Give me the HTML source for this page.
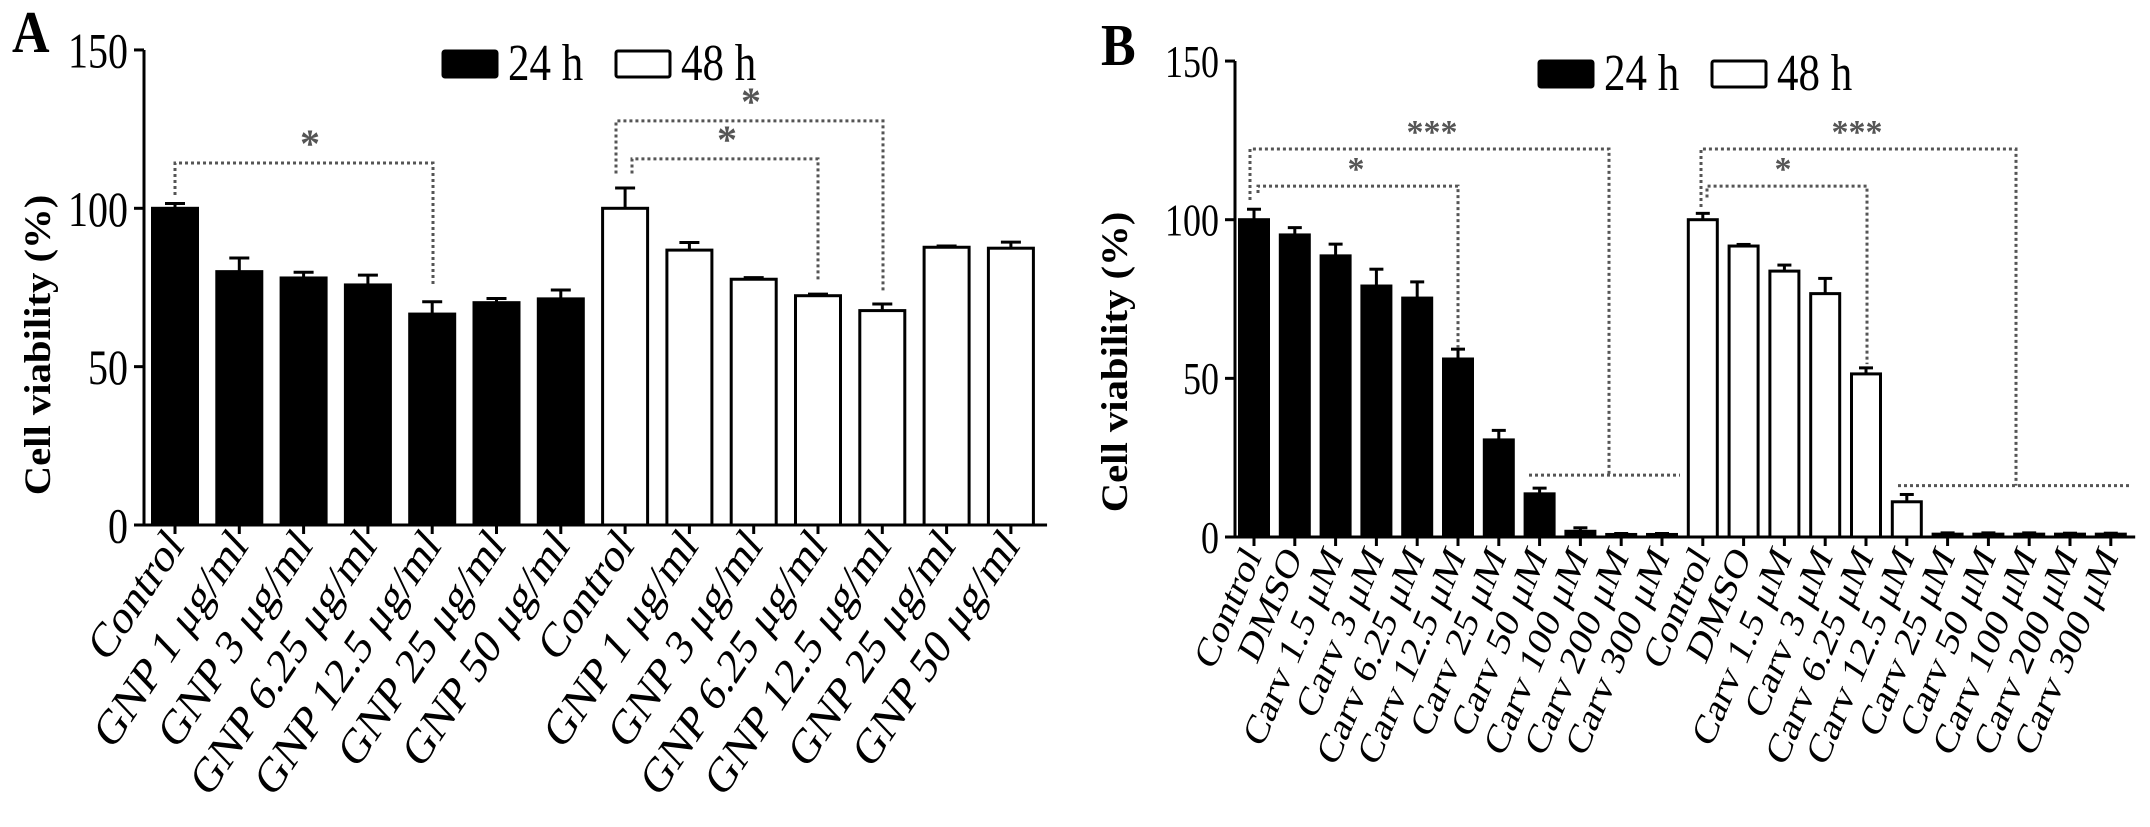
<!DOCTYPE html>
<html><head><meta charset="utf-8"><style>
html,body{margin:0;padding:0;background:#fff;}
svg{display:block;font-family:"Liberation Serif",serif;}
</style></head><body>
<svg id="fig" width="2150" height="827" viewBox="0 0 2150 827" xmlns="http://www.w3.org/2000/svg"></svg>
<script>
// ---- Panel A data ----
const catsA = ["Control","GNP 1 μg/ml","GNP 3 μg/ml","GNP 6.25 μg/ml","GNP 12.5 μg/ml","GNP 25 μg/ml","GNP 50 μg/ml"];
const a24 = [100,80,78,75.8,66.6,70.2,71.4];
const a24err = [1.5,4.3,1.8,3.1,3.9,1.3,2.8];
const a48 = [100,86.8,77.6,72.4,67.7,87.7,87.4];
const a48err = [6.4,2.4,0.5,0.5,2.1,0.4,1.9];
// ---- Panel B data ----
const catsB = ["Control","DMSO","Carv 1.5 μM","Carv 3 μM","Carv 6.25 μM","Carv 12.5 μM","Carv 25 μM","Carv 50 μM","Carv 100 μM","Carv 200 μM","Carv 300 μM"];
const b24 = [100,95.2,88.6,79.1,75.3,56.1,30.6,13.6,1.8,0.8,0.8];
const b24err = [3.3,2.3,3.7,5.3,5.1,3.1,3.0,1.8,1.1,0.3,0.3];
const b48 = [100,91.7,83.8,76.7,51.4,11.1,0.9,0.9,0.9,0.9,0.9];
const b48err = [2,0.5,1.9,4.8,1.9,2.3,0.4,0.4,0.4,0.3,0.3];
const yTicks = [0,50,100,150];

const NS="http://www.w3.org/2000/svg";
const svg=document.getElementById('fig');
function el(tag,attrs,parent){const e=document.createElementNS(NS,tag);for(const k in attrs)e.setAttribute(k,attrs[k]);(parent||svg).appendChild(e);return e;}

function panel(cfg){
  const g=el('g',{});
  
  
  const y=v=>cfg.y0-v*cfg.py;
  const x=i=>cfg.x0+i*cfg.dx;
  const n=cfg.cats.length;
  const ax=el('line',{x1:cfg.ax,x2:cfg.ax,y1:y(150),y2:y(0),stroke:'#000','stroke-width':3},g);
  
  
  yTicks.forEach(t=>{
    el('line',{x1:cfg.ax-10,x2:cfg.ax,y1:y(t),y2:y(t),stroke:'#000','stroke-width':3},g);
    const tx=el('text',{transform:`translate(${cfg.ax-16},${y(t)+cfg.tf*0.35*1.25}) scale(1,1.25)`,'text-anchor':'end','font-size':cfg.tf},g);
    tx.textContent=t;
    
    
  });
  const xa=el('line',{x1:cfg.ax-3,x2:x(2*n-1)+cfg.dx/2+4,y1:y(0),y2:y(0),stroke:'#000','stroke-width':3},g);
  
  
  const all=[];
  cfg.cats.forEach((c,i)=>all.push({c,v:cfg.s24[i],e:cfg.e24[i],black:true}));
  cfg.cats.forEach((c,i)=>all.push({c,v:cfg.s48[i],e:cfg.e48[i],black:false}));
  all.forEach((d,i)=>{
    const cx=x(i);
    el('line',{x1:cx,x2:cx,y1:y(0),y2:y(0)+9,stroke:'#000','stroke-width':3},g);
    el('line',{x1:cx,x2:cx,y1:y(d.v),y2:y(d.v+d.e),stroke:'#000','stroke-width':3},g);
    el('line',{x1:cx-cfg.cap,x2:cx+cfg.cap,y1:y(d.v+d.e),y2:y(d.v+d.e),stroke:'#000','stroke-width':3},g);
    const r=el('rect',{x:cx-cfg.bw/2,y:y(d.v),width:cfg.bw,height:y(0)-y(d.v),fill:d.black?'#000':'#fff',stroke:'#000','stroke-width':3},g);
    
    
    const lx=cx+cfg.lox, ly=y(0)+cfg.loy;
    const t=el('text',{transform:`translate(${lx},${ly}) scale(1,1.25) rotate(${-cfg.rot})`,'text-anchor':'end','font-size':cfg.lf},g);
    t.textContent=d.c;
    
    
  });
  cfg.brackets.forEach(b=>{
    const p=el('path',{d:b.map((pt,k)=>(k?'L':'M')+pt[0]+' '+y(pt[1])).join(' '),fill:'none',stroke:'#555','stroke-width':3,'stroke-dasharray':'3 3'},g);
    
    
  });
  cfg.stars.forEach(s=>{
    const t=el('text',{x:s[0],y:y(s[1])-6,'text-anchor':'middle','font-size':cfg.sf,fill:'#555','font-weight':'bold'},g);
    t.textContent=s[2];
    
    
  });
  const tt=el('text',{transform:`translate(${cfg.tx},${cfg.ty}) rotate(-90) scale(1.1,1)`,'text-anchor':'middle','font-size':cfg.ttf,'font-weight':'bold'},g);
  tt.textContent='Cell viability (%)';
  
  
  const L=el('text',{transform:`translate(${cfg.lx},${cfg.ly}) scale(1,1.15)`,'font-size':cfg.lfs,'font-weight':'bold'},g);
  L.textContent=cfg.letter;
  
  
  const lg=el('g',{},g);
  
  
  const ls=el('rect',{x:cfg.lg[0],y:cfg.lg[1],width:cfg.lg[2],height:cfg.lg[3],fill:'#000',stroke:'#000','stroke-width':3,rx:2},lg);
  
  
  const l1=el('text',{transform:`translate(${cfg.lg[0]+cfg.lg[2]+11},${cfg.lg[1]+cfg.lg[3]+3}) scale(1,1.2)`,'font-size':43},lg);
  l1.textContent='24 h';
  
  
  const ls2=el('rect',{x:cfg.lg[4],y:cfg.lg[1],width:cfg.lg[2],height:cfg.lg[3],fill:'#fff',stroke:'#000','stroke-width':3,rx:2},lg);
  
  
  const l2=el('text',{transform:`translate(${cfg.lg[4]+cfg.lg[2]+11},${cfg.lg[1]+cfg.lg[3]+3}) scale(1,1.2)`,'font-size':43},lg);
  l2.textContent='48 h';
  
  
}

panel({name:'panel-a',letter:'A',cats:catsA,s24:a24,e24:a24err,s48:a48,e48:a48err,
  y0:525,py:3.167,x0:175,dx:64.3,ax:144,bw:45,cap:10,tf:40,lf:40,rot:50,lox:10,loy:22,sf:40,
  tx:50,ty:345,ttf:37,lx:12,ly:52,lfs:52,lg:[443,51,54,26,616],
  brackets:[
    [[175,104.2],[175,114.3],[433,114.3],[433,75.8]],
    [[616,111],[616,127.6],[883,127.6],[883,73.3]],
    [[632,111],[632,115.6],[818,115.6],[818,76.7]]],
  stars:[[310,114.3,'*'],[751,127.6,'*'],[727,115.6,'*']]});

panel({name:'panel-b',letter:'B',cats:catsB,s24:b24,e24:b24err,s48:b48,e48:b48err,
  y0:537,py:3.173,x0:1254,dx:40.8,ax:1235,bw:29,cap:7,tf:36,lf:34,rot:62,lox:8,loy:20,sf:34,
  tx:1127,ty:362,ttf:37,lx:1101,ly:65,lfs:52,lg:[1539,61,54,26,1712],
  brackets:[
    [[1250,106.2],[1250,122.3],[1609,122.3],[1609,19.5]],
    [[1529,19.5],[1680,19.5]],
    [[1258,108.4],[1258,110.6],[1458,110.6],[1458,59.6]],
    [[1701,104],[1701,122.3],[2016,122.3],[2016,16.2]],
    [[1898,16.2],[2130,16.2]],
    [[1707,107],[1707,110.6],[1867,110.6],[1867,54.5]]],
  stars:[[1432,122.3,'***'],[1356,110.6,'*'],[1857,122.3,'***'],[1783,110.6,'*']]});
</script>
</body></html>
